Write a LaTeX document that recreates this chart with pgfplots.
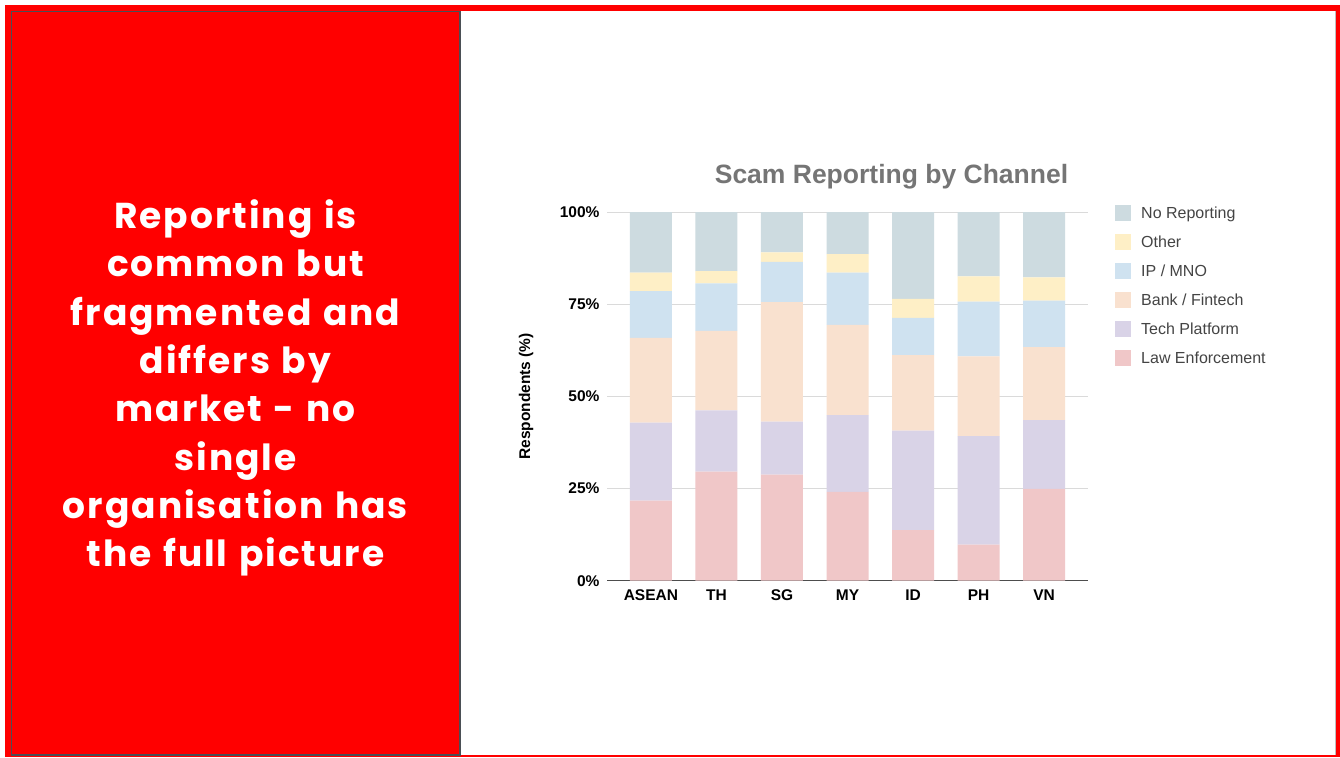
\documentclass[border=0pt]{standalone}
\usepackage{pgfplots}
\pgfplotsset{compat=1.18}
\usepackage{fontspec}
\setmainfont{Liberation Sans}
\newfontfamily\poppins{Poppins}[LetterSpace=5.5, WordSpace=1.2]
\definecolor{nrep}{HTML}{CDDBE0}
\definecolor{othc}{HTML}{FEEFC6}
\definecolor{ipc}{HTML}{CFE2F0}
\definecolor{bankc}{HTML}{F9E1CF}
\definecolor{techc}{HTML}{D9D3E7}
\definecolor{lawc}{HTML}{F0C7C8}
\definecolor{gridc}{HTML}{DADADA}
\definecolor{axisc}{HTML}{4D4D4D}
\definecolor{titlec}{HTML}{757575}
\definecolor{legc}{HTML}{444444}
\definecolor{pureRed}{HTML}{FF0000}
\definecolor{frameGray}{HTML}{4A4F55}
\begin{document}
\begin{tikzpicture}
\useasboundingbox (0,0) rectangle (1340pt,757pt);
\fill[white] (0,0) rectangle (1340pt,757pt);
\fill[pureRed] (5pt,0pt) rectangle (1340pt,752pt);
\draw[fill=pureRed, draw=frameGray, line width=1.2pt] (11.5pt,2pt) rectangle (460pt,745.5pt);
\fill[white] (460.6pt,2pt) rectangle (1335pt,746pt);
\draw[lightgray, line width=0.8pt] (1335pt,2pt) -- (1335pt,746pt);
\node[text=white, align=center, font=\poppins\bfseries\fontsize{36}{48.3}\selectfont] at (235.5pt,369pt)
 {Reporting is\\common but\\fragmented and\\differs by\\market - no\\single\\organisation has\\the full picture};
\begin{axis}[
  at={(607pt,176.3pt)}, anchor=south west,
  scale only axis, width=481pt, height=368.5pt,
  ybar stacked, bar width=42pt,
  xmin=-0.67, xmax=6.67, ymin=0, ymax=100,
  xtick={0,...,6}, xticklabels={ASEAN,TH,SG,MY,ID,PH,VN},
  ytick={0,25,50,75,100}, yticklabels={0\%,25\%,50\%,75\%,100\%},
  ymajorgrids, grid style={draw=gridc, line width=1pt},
  axis x line*=bottom, axis y line*=left,
  y axis line style={draw=none},
  x axis line style={draw=axisc, line width=1.5pt},
  major tick length=0pt,
  tick label style={font=\bfseries\fontsize{15.5}{18}\selectfont, text=black},
  yticklabel style={xshift=-4pt},
  xticklabel style={yshift=-5.8pt},
  /pgf/number format/assume math mode=true,
  ylabel={Respondents (\%)},
  every axis y label/.style={at={(axis description cs:-0.168,0.5)}, rotate=90, anchor=center, font=\bfseries\fontsize{15.5}{18}\selectfont},
  title={Scam Reporting by Channel},
  title style={at={(axis description cs:0.5915,1.079)}, anchor=center, font=\bfseries\fontsize{26.5}{30}\selectfont, text=titlec},
  legend image code/.code={\fill[#1,draw=none] (0pt,-2.2pt) rectangle (16pt,13.8pt);},
  reverse legend, legend cell align=left,
  legend style={at={(axis description cs:1.0561,1.0204)}, anchor=north west, draw=none, fill=none, inner sep=0pt,
    row sep=11.2pt, font=\fontsize{16}{19}\selectfont, text=legc,
    nodes={inner sep=0pt, anchor=base west, text height=12pt, text depth=4pt},
    /tikz/every odd column/.style={column sep=10pt}},
]
\addplot[fill=lawc, draw=none] coordinates {(0,21.7) (1,29.6) (2,28.8) (3,24.1) (4,13.7) (5,9.8) (6,24.9)};
\addplot[fill=techc, draw=none] coordinates {(0,21.2) (1,16.6) (2,14.4) (3,20.8) (4,27.0) (5,29.4) (6,18.7)};
\addplot[fill=bankc, draw=none] coordinates {(0,23.0) (1,21.6) (2,32.4) (3,24.5) (4,20.5) (5,21.7) (6,19.8)};
\addplot[fill=ipc, draw=none] coordinates {(0,12.7) (1,12.9) (2,10.9) (3,14.2) (4,10.1) (5,14.8) (6,12.6)};
\addplot[fill=othc, draw=none] coordinates {(0,5.0) (1,3.3) (2,2.6) (3,5.0) (4,5.2) (5,6.9) (6,6.3)};
\addplot[fill=nrep, draw=none] coordinates {(0,16.4) (1,16.0) (2,10.9) (3,11.4) (4,23.5) (5,17.4) (6,17.7)};
\legend{Law Enforcement,Tech Platform,Bank / Fintech,IP / MNO,Other,No Reporting}
\end{axis}
\end{tikzpicture}
\end{document}
